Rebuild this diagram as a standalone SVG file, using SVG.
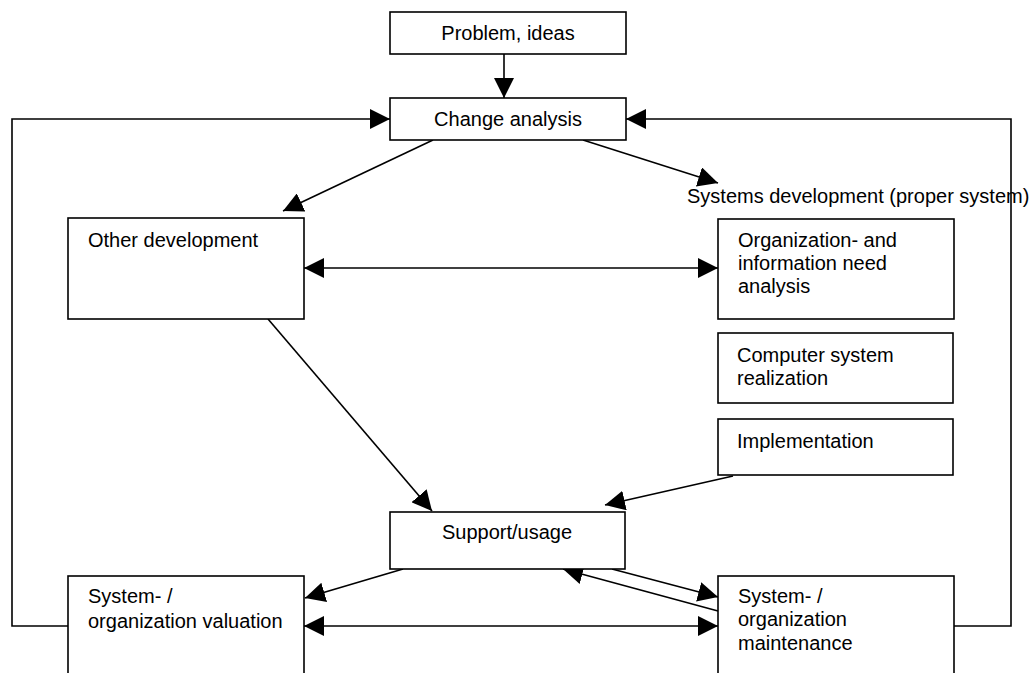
<svg xmlns="http://www.w3.org/2000/svg" width="1034" height="673" viewBox="0 0 1034 673">
  <style>
    .box { fill: #ffffff; stroke: #000000; stroke-width: 1.6; }
    .lbl { font-family: "Liberation Sans", Arial, sans-serif; font-size: 20px; fill: #000000; }
    .mid { text-anchor: middle; }
    .con { fill: none; stroke: #000000; stroke-width: 1.6; }
  </style>
  <defs>
    <marker id="arrow" markerUnits="userSpaceOnUse" markerWidth="20" markerHeight="20" refX="20" refY="10" orient="auto-start-reverse" viewBox="0 0 20 20">
      <path d="M0,0 L20,10 L0,20 z" fill="#000000"/>
    </marker>
  </defs>
  <rect width="1034" height="673" fill="#ffffff"/>

  <g id="connectors">
    <!-- Problem, ideas -> Change analysis -->
    <line class="con" x1="504" y1="54" x2="504" y2="98" marker-end="url(#arrow)"/>
    <!-- left feedback loop -->
    <polyline class="con" points="68,626 12,626 12,119 390,119" marker-end="url(#arrow)"/>
    <!-- right feedback loop -->
    <polyline class="con" points="954,626 1011,626 1011,119 626,119" marker-end="url(#arrow)"/>
    <!-- Change analysis -> Other development -->
    <line class="con" x1="433" y1="140" x2="283" y2="211" marker-end="url(#arrow)"/>
    <!-- Change analysis -> Systems development -->
    <line class="con" x1="583" y1="140" x2="718" y2="183" marker-end="url(#arrow)"/>
    <!-- Other development <-> Organization analysis -->
    <line class="con" x1="304" y1="268" x2="718" y2="268" marker-start="url(#arrow)" marker-end="url(#arrow)"/>
    <!-- Other development -> Support/usage -->
    <line class="con" x1="268" y1="319" x2="432" y2="511" marker-end="url(#arrow)"/>
    <!-- Implementation -> Support/usage -->
    <line class="con" x1="733" y1="476" x2="605" y2="505" marker-end="url(#arrow)"/>
    <!-- Support/usage -> valuation -->
    <line class="con" x1="403" y1="569" x2="305" y2="598" marker-end="url(#arrow)"/>
    <!-- Support/usage -> maintenance -->
    <line class="con" x1="612" y1="569" x2="718" y2="597" marker-end="url(#arrow)"/>
    <!-- maintenance -> Support/usage -->
    <line class="con" x1="718" y1="611" x2="563" y2="569" marker-end="url(#arrow)"/>
    <!-- valuation <-> maintenance -->
    <line class="con" x1="304" y1="626" x2="718" y2="626" marker-start="url(#arrow)" marker-end="url(#arrow)"/>
  </g>

  <g id="problem">
    <rect class="box" x="390" y="12" width="236" height="42"/>
    <text class="lbl mid" x="508" y="40">Problem, ideas</text>
  </g>

  <g id="change-analysis">
    <rect class="box" x="390" y="98" width="236" height="42"/>
    <text class="lbl mid" x="508" y="126">Change analysis</text>
  </g>

  <g id="systems-development">
    <text class="lbl" x="687" y="203">Systems development (proper system)</text>
  </g>

  <g id="other-development">
    <rect class="box" x="68" y="218" width="236" height="101"/>
    <text class="lbl" x="88" y="247">Other development</text>
  </g>

  <g id="organization-analysis">
    <rect class="box" x="718" y="219" width="236" height="100"/>
    <text class="lbl" x="738" y="247">Organization- and</text>
    <text class="lbl" x="738" y="270">information need</text>
    <text class="lbl" x="738" y="293">analysis</text>
  </g>

  <g id="computer-system">
    <rect class="box" x="718" y="333" width="235" height="70"/>
    <text class="lbl" x="737" y="362">Computer system</text>
    <text class="lbl" x="737" y="385">realization</text>
  </g>

  <g id="implementation">
    <rect class="box" x="718" y="419" width="235" height="56"/>
    <text class="lbl" x="737" y="448">Implementation</text>
  </g>

  <g id="support-usage">
    <rect class="box" x="390" y="512" width="235" height="57"/>
    <text class="lbl mid" x="507" y="539">Support/usage</text>
  </g>

  <g id="valuation">
    <rect class="box" x="68" y="576" width="236" height="120"/>
    <text class="lbl" x="88" y="603">System- /</text>
    <text class="lbl" x="88" y="628">organization valuation</text>
  </g>

  <g id="maintenance">
    <rect class="box" x="718" y="576" width="236" height="120"/>
    <text class="lbl" x="738" y="603">System- /</text>
    <text class="lbl" x="738" y="626">organization</text>
    <text class="lbl" x="738" y="650">maintenance</text>
  </g>
</svg>
